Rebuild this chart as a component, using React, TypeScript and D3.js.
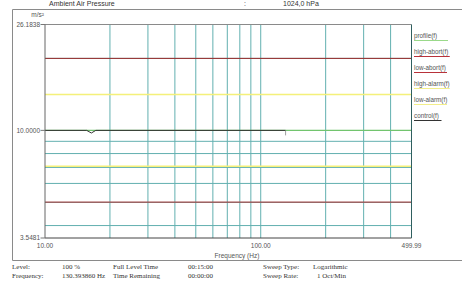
import React from "react";
import * as d3 from "d3";

const xTickLabels = [
  { f: 10, label: "10.00" },
  { f: 100, label: "100.00" },
  { f: 499.99, label: "499.99" },
];
const yMax = 26.1838;
const yMin = 3.5481;
const yTickLabels = [
  { v: 10, label: "10.0000" },
  { v: 3.5481, label: "3.5481" },
];
const xGrid = [20, 30, 40, 50, 60, 70, 80, 90, 100, 200, 300, 400];
const yGrid = [4, 5, 6, 7, 8, 9, 20];

const profileFreq = [10, 499.99];
const profileVal = [10, 10];
const highAbort = 20;
const lowAbort = 5.0119;
const highAlarm = 14.1254;
const lowAlarm = 7.0795;
const controlFreq = [10, 15.6, 16.4, 17.2, 130.3939];
const controlVal = [10, 10, 9.75, 10, 10];

const legendItems = [
  { label: "profile(f)", color: "#9ad98a", ul: 34 },
  { label: "high-abort(f)", color: "#b8323a", ul: 0 },
  { label: "low-abort(f)", color: "#b8323a", ul: 0 },
  { label: "high-alarm(f)", color: "#f2ee8a", ul: 0 },
  { label: "low-alarm(f)", color: "#f2ee8a", ul: 0 },
  { label: "control(f)", color: "#333333", ul: 0 },
];

const footer = [
  { x: 12, row: 0, t: "Level:" },
  { x: 12, row: 1, t: "Frequency:" },
  { x: 62, row: 0, t: "100 %" },
  { x: 62, row: 1, t: "130.393860 Hz" },
  { x: 113, row: 0, t: "Full Level Time" },
  { x: 113, row: 1, t: "Time Remaining" },
  { x: 188, row: 0, t: "00:15:00" },
  { x: 188, row: 1, t: "00:00:00" },
  { x: 263, row: 0, t: "Sweep Type:" },
  { x: 263, row: 1, t: "Sweep Rate:" },
  { x: 313, row: 0, t: "Logarithmic" },
  { x: 317, row: 1, t: "1 Oct/Min" },
];

export default function App() {
  const W = 462, H = 286;
  const L = 45, R = 411.5, T = 24.5, B = 238;
  const x = d3.scaleLog().domain([10, 499.99]).range([L, R]);
  const y = d3.scaleLog().domain([yMin, yMax]).range([B, 30.4]);
  const line = d3
    .line<[number, number]>()
    .x((d) => x(d[0]))
    .y((d) => y(d[1]));
  const ctrl = controlFreq.map((f, i) => [f, controlVal[i]] as [number, number]);
  const prof = profileFreq.map((f, i) => [f, profileVal[i]] as [number, number]);
  const sans = "'Liberation Sans', Arial, sans-serif";
  const serif = "'Liberation Serif', 'Times New Roman', serif";
  const grid = "#62b0b0";
  const cf = controlFreq[controlFreq.length - 1];
  return (
    <div style={{ position: "fixed", left: 0, top: 0, width: W, height: H, background: "#fff" }}>
      <svg width={W} height={H} style={{ display: "block" }}>
        <rect width={W} height={H} fill="#fff" />
        {/* title */}
        <g fontFamily={sans} fontSize={7} fill="#333">
          <text x={49} y={6}>Ambient Air Pressure</text>
          <text x={244} y={6}>:</text>
          <text x={283} y={6}>1024,0 hPa</text>
        </g>
        {/* outer frame */}
        <path d={`M${W + 2},9.5 H12.5 V260.5 H${W + 2}`} fill="none" stroke="#8a8a8a" strokeWidth={1} />
        {/* grid */}
        {xGrid.map((f) => (
          <line key={"gx" + f} x1={x(f)} x2={x(f)} y1={T} y2={B} stroke={grid} strokeWidth={1} />
        ))}
        {yGrid.map((v) => (
          <line key={"gy" + v} x1={L} x2={R} y1={y(v)} y2={y(v)} stroke={grid} strokeWidth={1} />
        ))}
        {/* limit lines */}
        <line x1={L} x2={R} y1={y(highAlarm)} y2={y(highAlarm)} stroke="#f4f07a" strokeWidth={1.6} />
        <line x1={L} x2={R} y1={y(lowAlarm)} y2={y(lowAlarm)} stroke="#f4f07a" strokeWidth={1.6} />
        <line x1={L} x2={R} y1={y(highAbort)} y2={y(highAbort)} stroke="#9e2a2a" strokeWidth={1} />
        <line x1={L} x2={R} y1={y(lowAbort)} y2={y(lowAbort)} stroke="#b03030" strokeWidth={1} />
        {/* profile & control */}
        <path d={line(prof) || ""} fill="none" stroke="#72c46e" strokeWidth={1.2} />
        <path d={line(ctrl) || ""} fill="none" stroke="#333" strokeWidth={1} />
        <line x1={x(cf)} x2={x(cf)} y1={y(10)} y2={y(10) + 5} stroke="#888" strokeWidth={0.8} />
        {/* plot frame */}
        <line x1={L} x2={R} y1={T} y2={T} stroke="#8a8a8a" />
        <line x1={L} x2={R} y1={B} y2={B} stroke="#444" />
        <line x1={L} x2={L} y1={T} y2={B} stroke="#666" />
        <line x1={R} x2={R} y1={T} y2={B} stroke="#2f5f5f" />
        {/* axes labels */}
        <g fontFamily={sans} fontSize={6.5} fill="#555">
          <text x={44} y={17} textAnchor="end">m/s²</text>
          <line x1={40.5} x2={L} y1={T} y2={T} stroke="#777" />
          <text x={40} y={T + 2.3} textAnchor="end">{yMax.toFixed(4)}</text>
          {yTickLabels.map((t) => (
            <g key={t.label}>
              <line x1={40.5} x2={L} y1={y(t.v)} y2={y(t.v)} stroke="#777" />
              <text x={40} y={y(t.v) + 2.3} textAnchor="end">{t.label}</text>
            </g>
          ))}
          {xTickLabels.map((t) => (
            <text key={t.label} x={x(t.f)} y={248} textAnchor="middle">{t.label}</text>
          ))}
          <text x={237} y={258} textAnchor="middle">Frequency (Hz)</text>
        </g>
        {/* legend */}
        <g fontFamily={sans} fontSize={6.3} fill="#555">
          {legendItems.map((it, i) => {
            const yy = 38 + i * 16;
            const w = it.ul || it.label.length * 2.75;
            return (
              <g key={it.label}>
                <text x={414} y={yy}>{it.label}</text>
                <line x1={414} x2={414 + w} y1={yy + 2.5} y2={yy + 2.5} stroke={it.color} strokeWidth={1} />
              </g>
            );
          })}
        </g>
        {/* footer */}
        <g fontFamily={serif} fontSize={7} fill="#333">
          {footer.map((f) => (
            <text key={f.t} x={f.x} y={269 + f.row * 9}>{f.t}</text>
          ))}
        </g>
      </svg>
    </div>
  );
}
